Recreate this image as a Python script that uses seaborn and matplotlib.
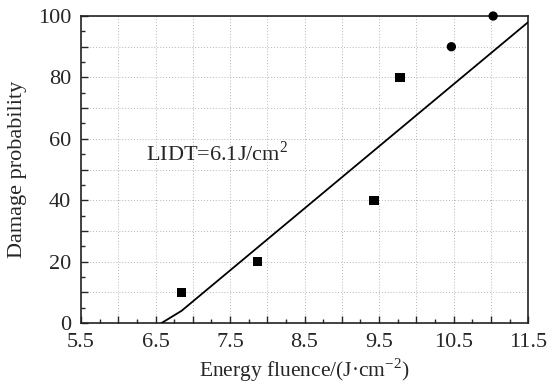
import numpy as np
import pandas as pd
import matplotlib
matplotlib.use("Agg")
import matplotlib.pyplot as plt
import seaborn as sns
from matplotlib.ticker import MultipleLocator

# measured damage points
square_x = [6.85, 7.87, 9.43, 9.78]
square_y = [10, 20, 40, 80]
circle_x = [10.47, 11.03]
circle_y = [90, 100]

# fitted line
fit_x = [6.58, 6.85, 11.5]
fit_y = [0, 4, 98]

x_ticks = [5.5, 6.5, 7.5, 8.5, 9.5, 10.5, 11.5]
y_ticks = [0, 20, 40, 60, 80, 100]
lidt_label = "LIDT=6.1J/cm$^2$"

sns.set_style("ticks")
plt.rcParams['font.family'] = ['Liberation Serif', 'DejaVu Serif']
plt.rcParams['mathtext.fontset'] = 'custom'
plt.rcParams['mathtext.rm'] = 'Liberation Serif'

fig = plt.figure(figsize=(5.49, 3.86), dpi=100)
ax = fig.add_axes([0.1475, 0.163, 0.8145, 0.7955])

pts = pd.DataFrame({
    "x": square_x + circle_x,
    "y": square_y + circle_y,
    "kind": ["sq"] * len(square_x) + ["ci"] * len(circle_x),
})
fit = pd.DataFrame({"x": fit_x, "y": fit_y})

sns.lineplot(data=fit, x="x", y="y", ax=ax, color="black", lw=1.3, zorder=3)
sns.scatterplot(data=pts, x="x", y="y", style="kind",
                markers={"sq": "s", "ci": "o"}, s=45, color="black",
                edgecolor="none", legend=False, ax=ax, zorder=4, clip_on=False)

ax.set_xlim(5.5, 11.5)
ax.set_ylim(0, 100)

# major ticks every 0.5 (labels every 1.0), minor every 0.25
ax.xaxis.set_major_locator(MultipleLocator(0.5))
ax.xaxis.set_minor_locator(MultipleLocator(0.25))
ax.set_xticklabels([f"{v:g}" if v in x_ticks else "" for v in ax.get_xticks()])
ax.yaxis.set_major_locator(MultipleLocator(10))
ax.yaxis.set_minor_locator(MultipleLocator(5))
ax.set_yticklabels([f"{v:g}" if v in y_ticks else "" for v in ax.get_yticks()])

ax.tick_params(which="both", direction="in", top=False, right=False, labelsize=16)
ax.tick_params(which="major", length=5, width=1, pad=7)
ax.tick_params(which="minor", length=3, width=1)

ax.grid(True, which="major", ls=(0, (1, 2)), color="#b5b5b5", lw=0.7)
for s in ax.spines.values():
    s.set_linewidth(1.2)
    s.set_color("#222222")

ax.set_xlabel("Energy fluence/(J·cm$^{-2}$)", fontsize=15.5, labelpad=3)
ax.set_ylabel("Damage probability", fontsize=16, labelpad=8)
ax.text(6.37, 53, lidt_label, fontsize=16)

fig.savefig("out.png", dpi=100)
